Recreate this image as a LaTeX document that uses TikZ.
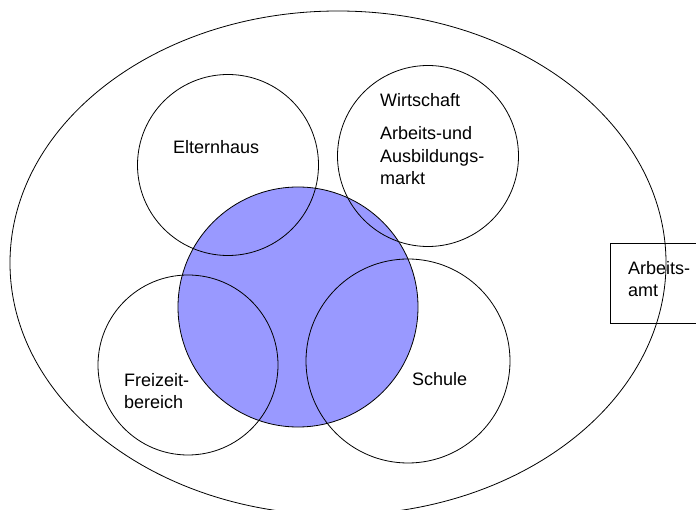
\documentclass[tikz,border=0pt]{standalone}
\usepackage{fontspec}
\setmainfont{Liberation Sans}
\usetikzlibrary{shapes.geometric}
\definecolor{blau}{RGB}{153,153,255}
\begin{document}
\begin{tikzpicture}[x=1pt,y=-1pt,
  ring/.style={circle, draw=black, line width=0.8pt, inner sep=0pt},
  lbl/.style={inner sep=0pt, font=\fontsize{18}{22.5}\selectfont, align=left},
]
\useasboundingbox (0,0) rectangle (696,510);
% Arbeitsamt box
\node[draw=black, line width=0.8pt, rectangle, minimum width=88pt, minimum height=80pt, inner sep=0pt] (amtbox) at (654,283) {};
% outer ellipse
\node[ellipse, draw=black, line width=0.8pt, minimum width=656pt, minimum height=504pt, inner sep=0pt] (welt) at (338,263) {};
% central blue circle
\node[ring, fill=blau, minimum size=240pt] (mitte) at (298,307) {};
% surrounding circles
\node[ring, minimum size=181pt] (eltern) at (228,165) {};
\node[ring, minimum size=181pt] (wirt) at (428,156) {};
\node[ring, minimum size=180pt] (frei) at (188,365) {};
\node[ring, minimum size=204pt] (schule) at (408,361) {};
% labels
\node[lbl, anchor=base west] (teltern) at (173,154) {Elternhaus};
\node[lbl, anchor=north west] (twirt) at (380,93) {Wirtschaft\\[11pt]Arbeits-und\\Ausbildungs-\\markt};
\node[lbl, anchor=north west] (tfrei) at (124,373) {Freizeit-\\bereich};
\node[lbl, anchor=base west] (tschule) at (412,386) {Schule};
\node[lbl, anchor=north west] (tamt) at (628,261) {Arbeits-\\amt};
\end{tikzpicture}
\end{document}
